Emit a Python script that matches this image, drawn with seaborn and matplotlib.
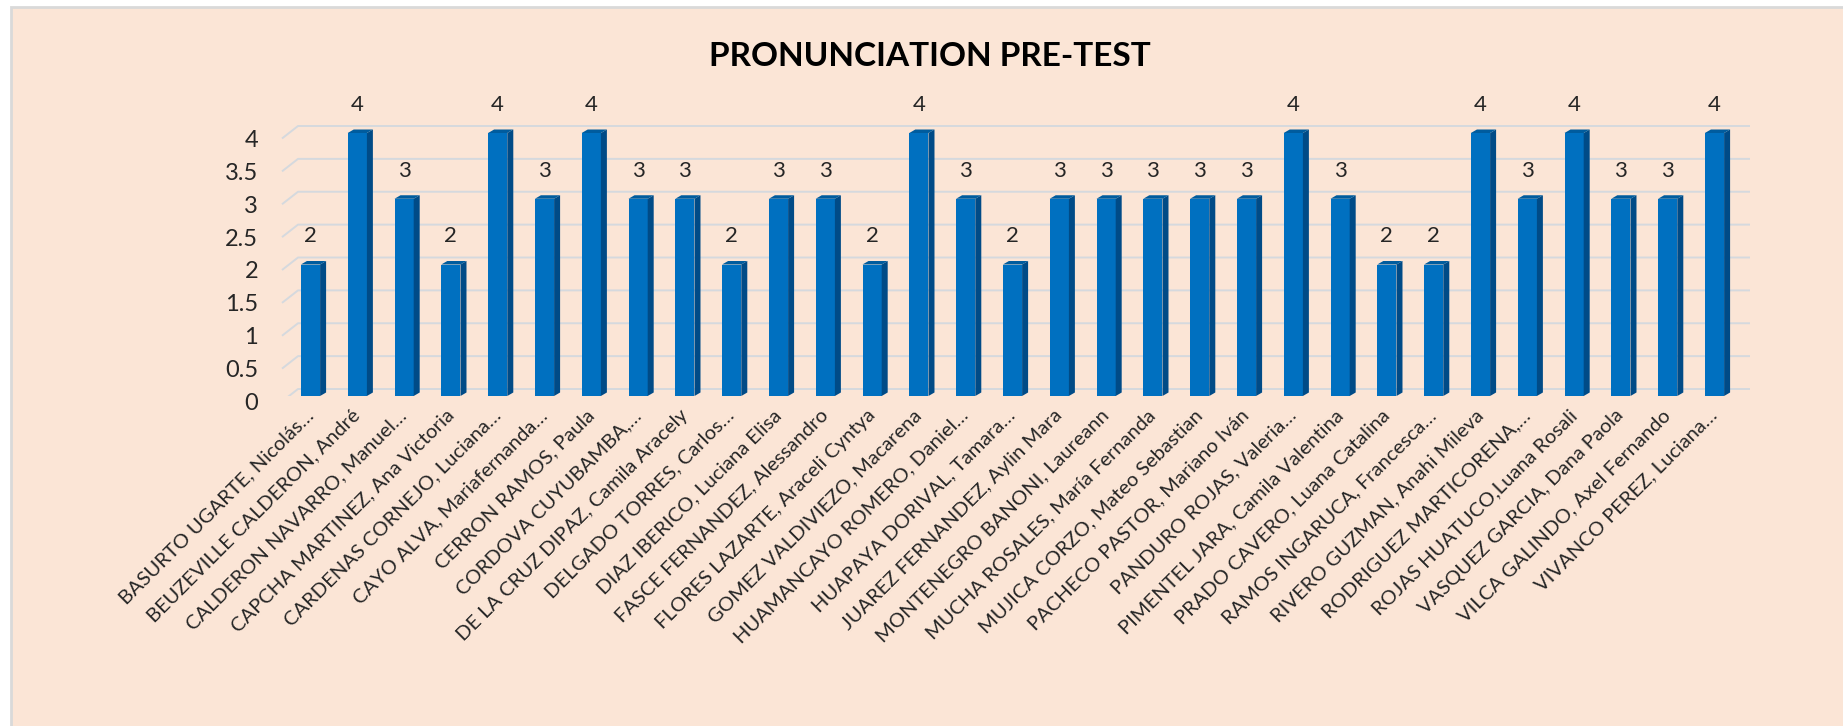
# Pronunciation pre-test scores, one 3D-style column per student

import pandas as pd
import seaborn as sns
import matplotlib.pyplot as plt
from matplotlib.patches import Polygon, Rectangle

# Data
names = [
    'BASURTO UGARTE, Nicolás…', 'BEUZEVILLE CALDERON, André',
    'CALDERON NAVARRO, Manuel…', 'CAPCHA MARTINEZ, Ana Victoria',
    'CARDENAS CORNEJO, Luciana…', 'CAYO ALVA, Mariafernanda…',
    'CERRON RAMOS, Paula', 'CORDOVA CUYUBAMBA,…',
    'DE LA CRUZ DIPAZ, Camila Aracely', 'DELGADO TORRES, Carlos…',
    'DIAZ IBERICO, Luciana Elisa', 'FASCE FERNANDEZ, Alessandro',
    'FLORES LAZARTE, Araceli Cyntya', 'GOMEZ VALDIVIEZO, Macarena',
    'HUAMANCAYO ROMERO, Daniel…', 'HUAPAYA DORIVAL, Tamara…',
    'JUAREZ FERNANDEZ, Aylin Mara', 'MONTENEGRO BANONI, Laureann',
    'MUCHA ROSALES, María Fernanda', 'MUJICA CORZO, Mateo Sebastian',
    'PACHECO PASTOR, Mariano Iván', 'PANDURO ROJAS, Valeria…',
    'PIMENTEL JARA, Camila Valentina', 'PRADO CAVERO, Luana Catalina',
    'RAMOS INGARUCA, Francesca…', 'RIVERO GUZMAN, Anahi Mileva',
    'RODRIGUEZ MARTICORENA,…', 'ROJAS HUATUCO,Luana Rosali',
    'VASQUEZ GARCIA, Dana Paola', 'VILCA GALINDO, Axel Fernando',
    'VIVANCO PEREZ, Luciana…',
]
scores = [2, 4, 3, 2, 4, 3, 4, 3, 3, 2, 3, 3, 2, 4, 3, 2,
          3, 3, 3, 3, 3, 4, 3, 2, 2, 4, 3, 4, 3, 3, 4]
y_ticks = [0, 0.5, 1, 1.5, 2, 2.5, 3, 3.5, 4]
y_tick_labels = ['0', '0.5', '1', '1.5', '2', '2.5', '3', '3.5', '4']
title = 'PRONUNCIATION PRE-TEST'

sns.set_style('white')
plt.rcParams['font.family'] = ['Lato', 'DejaVu Sans']

W, H = 1843, 726
fig = plt.figure(figsize=(W / 100, H / 100), dpi=100, facecolor='white')
# peach chart area with a thin grey frame (behind the axes)
fig.patches.append(Rectangle((11 / W, -0.05), 1.1, 1.05 - 7 / H,
                             transform=fig.transFigure, facecolor='#FBE5D6',
                             edgecolor='#D9D9D9', linewidth=2, zorder=-5))

# layout (pixels per unit on each axis)
XU, YU = 46.8, 65.75
x_lim = (-0.7, 30.8)
y_lim = (0, 4.5)
left_px = 310.5 + x_lim[0] * XU
ax = fig.add_axes([left_px / W, (H - 396) / H,
                   (x_lim[1] - x_lim[0]) * XU / W, (y_lim[1] - y_lim[0]) * YU / H])
ax.patch.set_alpha(0)

df = pd.DataFrame({'name': names, 'score': scores})
sns.barplot(data=df, x='name', y='score', color='#0070C0', saturation=1,
            width=0.41, linewidth=0, ax=ax, zorder=3)

# fake depth: darker right side and top face for every bar
dx, dz = 6 / XU, 3.5 / YU
for p in list(ax.patches):
    x0, w, h = p.get_x(), p.get_width(), p.get_height()
    side = [(x0 + w, 0), (x0 + w + dx, dz), (x0 + w + dx, h + dz), (x0 + w, h)]
    top = [(x0, h), (x0 + dx, h + dz), (x0 + w + dx, h + dz), (x0 + w, h)]
    ax.add_patch(Polygon(side, closed=True, facecolor='#004B87', lw=0, zorder=3))
    ax.add_patch(Polygon(top, closed=True, facecolor='#005C9E', lw=0, zorder=3))

# back-wall gridlines with little floor diagonals
gx_front, gx_back, gx_end = -28.5 / XU, -12.5 / XU, 1439.5 / XU
gy_front, gy_back = -5.5 / YU, 7 / YU
for t, lab in zip(y_ticks, y_tick_labels):
    ax.plot([gx_front, gx_back, gx_end], [t + gy_front, t + gy_back, t + gy_back],
            color='#D5D9DE', lw=1.4, zorder=1, solid_capstyle='butt')
    ax.text(-52.5 / XU, t - 7.5 / YU, lab, ha='right', va='center',
            fontsize=17, color='#262626')

ax.bar_label(ax.containers[0], labels=[str(v) for v in scores], padding=13,
             fontsize=16, color='#262626')

ax.set_xlim(x_lim)
ax.set_ylim(y_lim)
ax.set_yticks([])
ax.set_xticks(range(len(names)))
ax.set_xticklabels(names, rotation=45, ha='right', va='center',
                   rotation_mode='anchor', fontsize=14.5, color='#262626')
ax.tick_params(axis='x', length=0, pad=12)
ax.set_xlabel('')
ax.set_ylabel('')
sns.despine(ax=ax, left=True, bottom=True)

fig.text(930 / W, 1 - 56 / H, title, ha='center', va='center',
         fontsize=24, fontweight='bold', color='black')

fig.savefig('out.png', dpi=100, facecolor=fig.get_facecolor())
